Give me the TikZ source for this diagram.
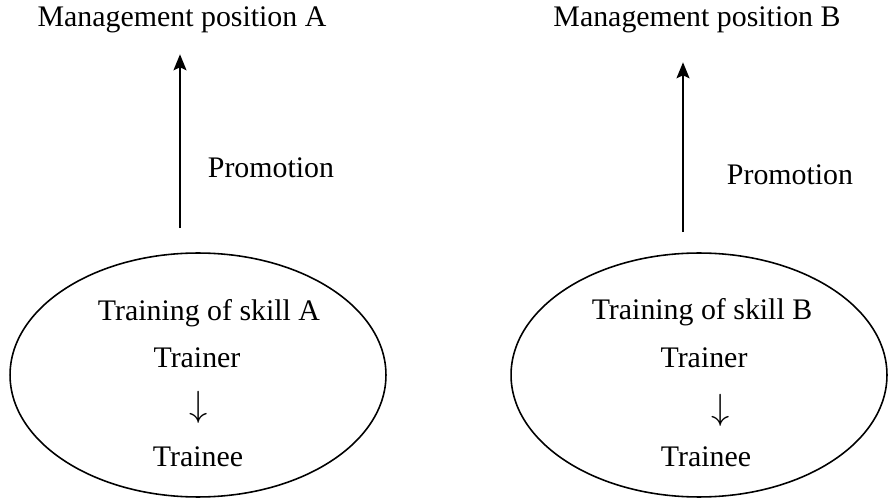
\documentclass[tikz,border=0pt]{standalone}
\usepackage{fontspec}
\setmainfont{Liberation Serif}
\usetikzlibrary{arrows.meta,positioning,shapes.geometric}

\begin{document}
\begin{tikzpicture}[x=0.02cm,y=-0.02cm,
    font=\fontsize{17}{20}\selectfont,
    skill/.style={ellipse,draw,line width=0.9pt,minimum width=7.52cm,minimum height=4.88cm},
    down/.style={font=\fontsize{22}{24}\selectfont},
    promo/.style={-{Stealth[length=3.2mm,width=2.6mm,inset=0.6mm]},line width=1pt}]
            \useasboundingbox (0,0) rectangle (891,502);

            \node[skill] (sA) at (198,375) {};
            \node[skill] (sB) at (699,375) {};

            \node (mA) at (182,20) {Management position A};
            \node (mB) at (697,20) {Management position B};

            \node (pA) at (271,168) {Promotion};
            \node (pB) at (790,175) {Promotion};

            \node (tA) at (209,313) {Training of skill A};
            \node (rA) at (197,358) {Trainer};
            \node[down] (dA) at (199,407) {$\downarrow$};
            \node (eA) at (198,457) {Trainee};

            \node (tB) at (702,312) {Training of skill B};
            \node (rB) at (704,358) {Trainer};
            \node[down] (dB) at (721,410) {$\downarrow$};
            \node (eB) at (706,457) {Trainee};

            \draw[promo] ([xshift=-0.04cm,yshift=0.48cm]sA.north -| mA.south) -- ([xshift=-0.04cm,yshift=-0.3cm]mA.south);
            \draw[promo] ([xshift=-0.28cm,yshift=0.4cm]sB.north -| mB.south) -- ([xshift=-0.28cm,yshift=-0.46cm]mB.south);

        \end{tikzpicture}
\end{document}
